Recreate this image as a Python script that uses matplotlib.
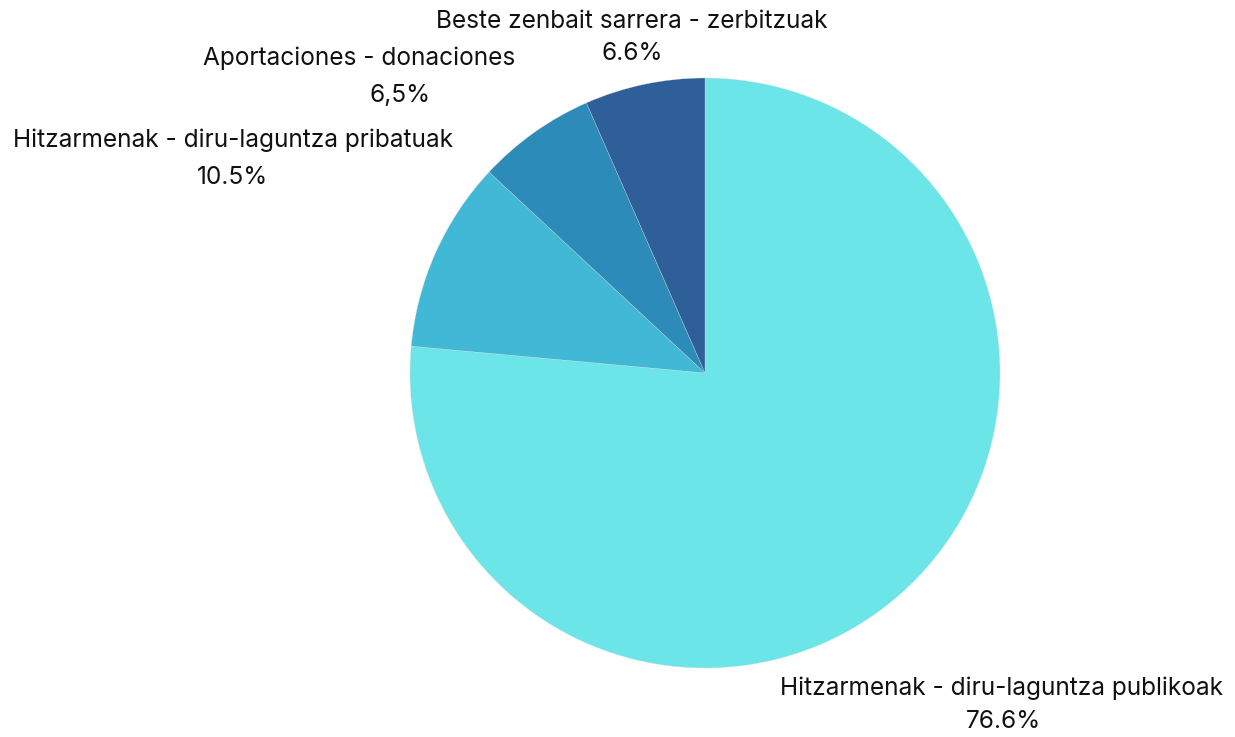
import matplotlib
matplotlib.use("Agg")
import matplotlib.pyplot as plt

labels = ["Hitzarmenak - diru-laguntza publikoak",
          "Hitzarmenak - diru-laguntza pribatuak",
          "Aportaciones - donaciones",
          "Beste zenbait sarrera - zerbitzuak"]
values = [76.6, 10.5, 6.5, 6.6]
pct_text = ["76.6%", "10.5%", "6,5%", "6.6%"]
colors = ["#6CE5E8", "#41B8D5", "#2D8BBA", "#2F5F98"]

W, H = 1235, 737
fig = plt.figure(figsize=(W / 100, H / 100), dpi=100)
plt.rcParams["font.family"] = ["Inter", "DejaVu Sans"]

cx, cy, r = 705, 373, 295
ax = fig.add_axes([(cx - r) / W, (H - cy - r) / H, 2 * r / W, 2 * r / H])
ax.pie(values, colors=colors, startangle=90, counterclock=False,
       radius=1, wedgeprops=dict(edgecolor="#dddddd", linewidth=0.2))
ax.set_xlim(-1, 1)
ax.set_ylim(-1, 1)
ax.axis("off")

# label anchors (pixel centres for name line and percent line)
name_pos = [(1001, 688), (233, 140), (359, 58), (632, 22)]
pct_pos = [(1003, 722), (233, 178), (400, 95), (632, 53)]
for lab, pt, (nx, ny), (px, py) in zip(labels, pct_text, name_pos, pct_pos):
    fig.text(nx / W, 1 - ny / H, lab, ha="center", va="center", fontsize=17.6, color="#111111")
    fig.text(px / W, 1 - py / H, pt, ha="center", va="center", fontsize=17.6, color="#111111")

fig.savefig("out.png", dpi=100)
